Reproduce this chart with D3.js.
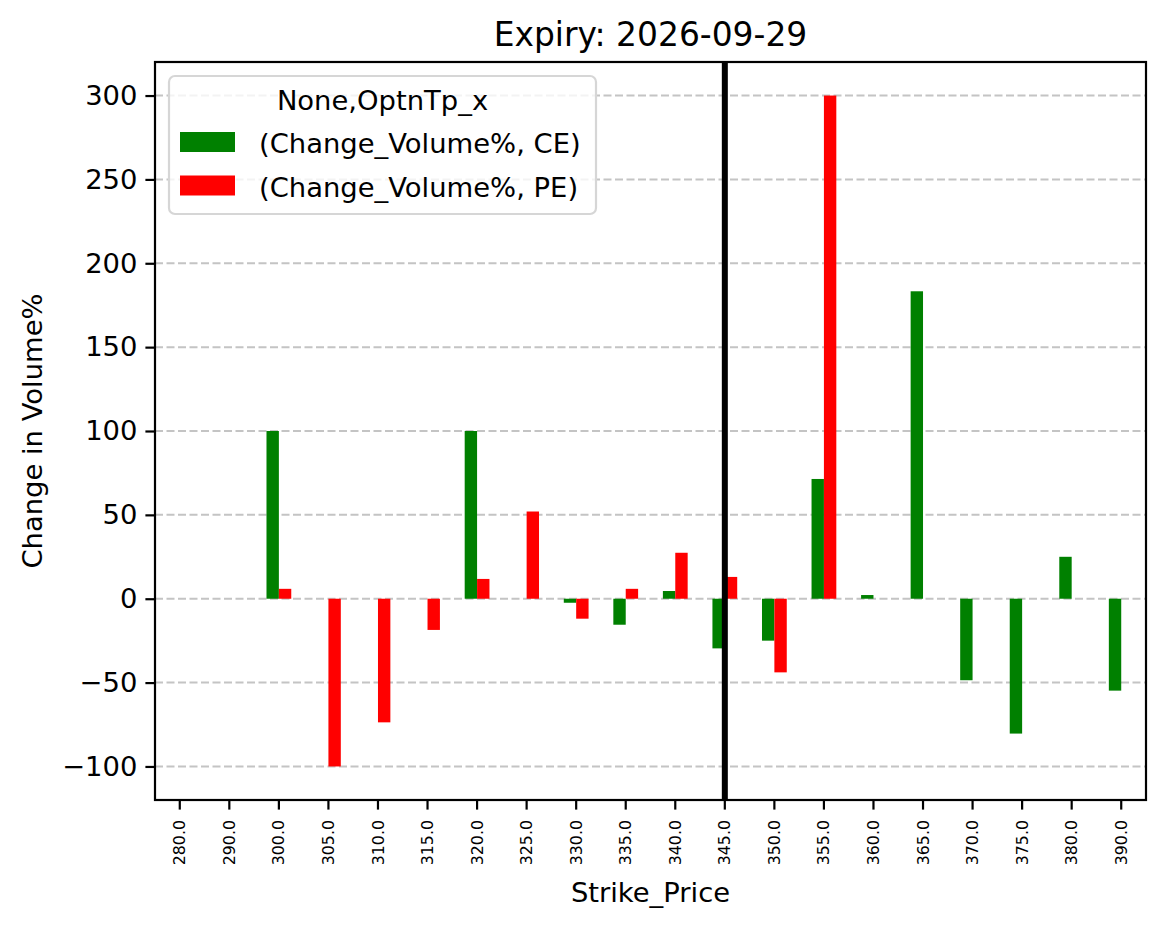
<!DOCTYPE html>
<html>
<head>
<meta charset="utf-8">
<script src="https://cdn.jsdelivr.net/npm/d3@7"></script>
<style>
  body { margin: 0; background: #fff; }
  svg { font-family: "DejaVu Sans", sans-serif; }
</style>
</head>
<body>
<svg id="chart" width="1166" height="928"></svg>
<script>
// values
const strikes = ['280.0', '290.0', '300.0', '305.0', '310.0', '315.0', '320.0', '325.0', '330.0', '335.0',
                 '340.0', '345.0', '350.0', '355.0', '360.0', '365.0', '370.0', '375.0', '380.0', '390.0']
const ceChange = [null, null, 100, null, null, null, 100, null, -2.4, -15.5,
                  4.6, -29.6, -25, 71.4, 2.2, 183.3, -48.6, -80.4, 25, -54.8]
const peChange = [null, null, 5.9, -100, -73.7, -18.6, 11.8, 52, -11.9, 5.9,
                  27.4, 13, -43.9, 300, null, null, null, null, null, null]
const seriesNames = ['(Change_Volume%, CE)', '(Change_Volume%, PE)']
const seriesColors = ['green', 'red']
const yTicks = [-100, -50, 0, 50, 100, 150, 200, 250, 300]
const spotStrike = '345.0'
const expiry = '2026-09-29'

const svg = d3.select('#chart')
const m = { left: 155, top: 62, right: 1146, bottom: 800 }
const W = m.right - m.left, H = m.bottom - m.top

const x = d3.scaleBand().domain(strikes).range([ m.left, m.right ]).padding(0)
const y = d3.scaleLinear().domain([ -120, 320 ]).range([ m.bottom, m.top ])
const barW = x.bandwidth() * 0.25

// grid
svg.append('g')
  .selectAll('line')
  .data(yTicks)
  .join('line')
    .attr('x1', m.left).attr('x2', m.right)
    .attr('y1', d => y(d)).attr('y2', d => y(d))
    .attr('stroke', '#c4c4c4')
    .attr('stroke-width', 2)
    .attr('stroke-dasharray', '8,3.5')

// bars
const series = [ ceChange, peChange ]
series.forEach( ( vals, s ) => {
  svg.append('g')
    .selectAll('rect')
    .data(vals.map( ( v, i ) => [ strikes[i], v ] ).filter( d => d[1] !== null ))
    .join('rect')
      .attr('x', d => x(d[0]) + x.bandwidth() / 2 - barW + s * barW)
      .attr('width', barW)
      .attr('y', d => y(Math.max(0, d[1])))
      .attr('height', d => Math.abs(y(d[1]) - y(0)))
      .attr('fill', seriesColors[s])
} )

// spot line
svg.append('line')
  .attr('x1', x(spotStrike) + x.bandwidth() / 2).attr('x2', x(spotStrike) + x.bandwidth() / 2)
  .attr('y1', m.top).attr('y2', m.bottom)
  .attr('stroke', '#000')
  .attr('stroke-width', 6)

// axes
const yAxis = svg.append('g')
  .attr('transform', `translate(${m.left},0)`)
  .call(d3.axisLeft(y).tickValues(yTicks).tickSizeOuter(0).tickSize(9.6).tickPadding(8)
        .tickFormat(d => d < 0 ? '\u2212' + Math.abs(d) : d))
yAxis.select('.domain').remove()
yAxis.selectAll('line').attr('stroke-width', 2.2)
yAxis.selectAll('text').attr('font-size', 27.4).attr('font-family', 'DejaVu Sans').attr('fill', '#000')

const xAxis = svg.append('g')
  .attr('transform', `translate(0,${m.bottom})`)
  .call(d3.axisBottom(x).tickSizeOuter(0).tickSize(9.6))
xAxis.select('.domain').remove()
xAxis.selectAll('line').attr('stroke-width', 2.2)
xAxis.selectAll('text')
  .attr('font-size', 15.8).attr('font-family', 'DejaVu Sans').attr('fill', '#000')
  .attr('transform', 'rotate(-90)')
  .attr('x', -20).attr('y', 0).attr('dy', '0.35em')
  .attr('text-anchor', 'end')

// frame
svg.append('rect')
  .attr('x', m.left).attr('y', m.top).attr('width', W).attr('height', H)
  .attr('fill', 'none').attr('stroke', '#000').attr('stroke-width', 2.2)

// labels
svg.append('text')
  .attr('x', m.left + W / 2).attr('y', 46)
  .attr('text-anchor', 'middle').attr('font-size', 32.9)
  .text(`Expiry: ${expiry}`)
svg.append('text')
  .attr('x', m.left + W / 2).attr('y', 902)
  .attr('text-anchor', 'middle').attr('font-size', 27.4)
  .text('Strike_Price')
svg.append('text')
  .attr('transform', `translate(42,${m.top + H / 2}) rotate(-90)`)
  .attr('text-anchor', 'middle').attr('font-size', 27.4)
  .text('Change in Volume%')

// legend
const lg = svg.append('g').attr('transform', 'translate(169,76)')
lg.append('rect')
  .attr('width', 427).attr('height', 138).attr('rx', 6)
  .attr('fill', '#fff').attr('fill-opacity', 0.8)
  .attr('stroke', '#d6d6d6').attr('stroke-width', 2.2)
lg.append('text')
  .attr('x', 213.5).attr('y', 34)
  .attr('text-anchor', 'middle').attr('font-size', 27.4)
  .text('None,OptnTp_x')
seriesNames.forEach( ( name, i ) => {
  lg.append('rect')
    .attr('x', 11).attr('y', 56 + i * 43.5).attr('width', 55).attr('height', 20)
    .attr('fill', seriesColors[i])
  lg.append('text')
    .attr('x', 90).attr('y', 77 + i * 43.5).attr('font-size', 27.4)
    .text(name)
} )
</script>
</body>
</html>
